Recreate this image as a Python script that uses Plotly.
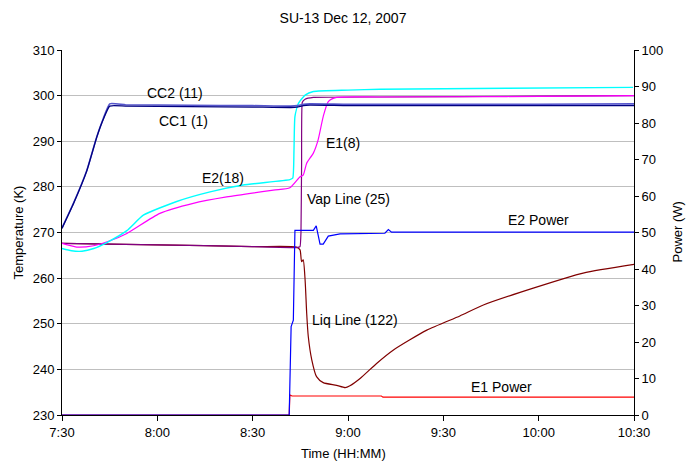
import plotly.graph_objects as go

# time in minutes after 7:30
tick_vals = [0, 30, 60, 90, 120, 150, 180]
tick_text = ["7:30", "8:00", "8:30", "9:00", "9:30", "10:00", "10:30"]

cc1_t = [0, 3.6, 7.8, 10.9, 13.0, 15.0, 20, 40, 60, 72, 74, 76, 78, 90, 120, 150, 180]
cc1_T = [270.9, 276.3, 283.5, 290.8, 294.8, 297.7, 297.7, 297.6, 297.5, 297.4, 297.5, 297.8, 297.9, 297.8, 297.8, 297.8, 297.8]

cc2_t = [0, 3.6, 7.8, 10.9, 13.0, 15.0, 20, 40, 60, 72, 74, 76, 78, 90, 120, 150, 180]
cc2_T = [271.0, 276.4, 283.6, 290.9, 295.0, 298.2, 298.0, 297.9, 297.8, 297.7, 297.8, 298.1, 298.2, 298.1, 298.1, 298.1, 298.2]

e2_t = [0, 3.0, 6.3, 10.0, 14.1, 20.4, 25.6, 36.1, 46.6, 57.0, 71.7, 72.6, 73.0, 73.3, 74.4, 76.5, 79.1, 90, 100.1, 140, 179.7]
e2_T = [266.5, 266.0, 265.9, 266.5, 267.8, 270.4, 273.8, 276.8, 278.9, 280.4, 281.6, 281.9, 288.0, 295.4, 298.3, 300.1, 300.9, 301.2, 301.4, 301.6, 301.8]

e1_t = [0, 4.6, 9.9, 15.1, 20.4, 30.8, 41.3, 51.8, 66.5, 71.7, 74.9, 75.9, 77.0, 79.1, 80.6, 82.2, 83.8, 86.4, 100, 140, 180]
e1_T = [267.6, 266.8, 267.1, 268.2, 269.8, 274.2, 276.4, 277.8, 279.3, 279.8, 282.2, 282.6, 285.2, 287.4, 290.3, 295.4, 298.7, 299.6, 299.7, 299.8, 300.0]

vap_t = [0, 30, 60, 73.8, 74.9, 75.2, 75.4, 75.6, 76.5, 79.1, 100, 150, 180]
vap_T = [267.6, 267.3, 266.9, 266.7, 266.9, 270.0, 285.0, 298.5, 299.2, 299.6, 299.7, 299.9, 300.0]

liq_t = [0, 30, 60, 73.8, 74.9, 75.4, 75.9, 76.5, 77.0, 77.5, 78.6, 80.1, 82.2, 86.4, 89.1, 90.6, 93.8, 99.0,
         104.2, 114.8, 125.2, 132.6, 148.3, 164.0, 180]
liq_T = [267.6, 267.3, 266.9, 266.8, 266.2, 263.6, 264.0, 259.6, 252.3, 247.2, 242.1, 238.4, 237.1, 236.5, 236.0,
         236.4, 238.0, 241.3, 244.2, 248.6, 251.7, 254.1, 257.8, 261.1, 263.0]

e2p_t = [0, 71.5, 72.1, 72.8, 73.3, 79.1, 80.0, 80.6, 81.2, 82.2, 83.8, 87.5, 101.6, 102.7, 103.7, 140, 180]
e2p_P = [0, 0, 24.2, 26.0, 50.6, 50.6, 51.8, 49.5, 46.8, 46.8, 49.0, 49.6, 49.8, 50.8, 50.1, 50.1, 50.1]

e1p_t = [0, 71.5, 71.7, 72.4, 100.5, 101.0, 180]
e1p_P = [0, 0, 5.5, 5.2, 5.2, 4.9, 4.9]

labels = ["CC2 (11)", "CC1 (1)", "E2(18)", "E1(8)", "Vap Line (25)", "E2 Power", "Liq Line (122)", "E1 Power"]
label_t = [35.6, 38.2, 50.6, 88.3, 90.1, 149.9, 92.2, 138.4]
label_T = [300.6, 294.4, 281.9, 289.7, 277.3, 272.7, 250.8, 236.2]

FONT = "Liberation Sans, Arial, sans-serif"

fig = go.Figure()

def add(t, v, color, width=1.2, y2=False, smooth=None):
    line = dict(color=color, width=width)
    if smooth:
        line.update(shape="spline", smoothing=smooth)
    fig.add_trace(go.Scatter(x=t, y=v, mode="lines", line=line,
                             yaxis="y2" if y2 else "y", showlegend=False, hoverinfo="skip"))

add(liq_t, liq_T, "#800000", smooth=0.6)
add(vap_t, vap_T, "#800080", smooth=0.3)
add(e1_t, e1_T, "#FF00FF", smooth=0.6)
add(e2_t, e2_T, "#00FFFF", 1.4, smooth=0.5)
add(cc2_t, cc2_T, "#5555CC", 1.6, smooth=0.4)
add(cc1_t, cc1_T, "#000080", 1.3, smooth=0.4)
add(e1p_t, e1p_P, "#FF0000", y2=True)
add(e2p_t, e2p_P, "#0000FF", y2=True)

for txt, tx, ty in zip(labels, label_t, label_T):
    fig.add_annotation(x=tx, y=ty, xref="x", yref="y", text=txt, showarrow=False,
                       font=dict(family=FONT, size=14, color="#000000"),
                       xanchor="center", yanchor="middle")

fig.add_annotation(x=(343 - 62) / 572, y=(415 - 453) / 365, xref="paper", yref="paper",
                   text="Time (HH:MM)", showarrow=False, xanchor="center", yanchor="middle",
                   font=dict(family=FONT, size=13, color="#000000"))
fig.add_annotation(x=(18 - 62) / 572, y=0.5, xref="paper", yref="paper", textangle=-90,
                   text="Temperature (K)", showarrow=False, xanchor="center", yanchor="middle",
                   font=dict(family=FONT, size=13, color="#000000"))
fig.add_annotation(x=(677 - 62) / 572, y=0.5, xref="paper", yref="paper", textangle=-90,
                   text="Power (W)", showarrow=False, xanchor="center", yanchor="middle",
                   font=dict(family=FONT, size=13, color="#000000"))

fig.update_layout(
    width=686, height=462,
    margin=dict(l=62, r=52, t=50, b=47),
    paper_bgcolor="white", plot_bgcolor="white",
    font=dict(family=FONT, size=13, color="#000000"),
    title=dict(text="SU-13 Dec 12, 2007", x=343 / 686, xref="container", xanchor="center",
               y=1 - 18.5 / 462, yref="container", yanchor="middle",
               font=dict(family=FONT, size=14, color="#000000")),
    xaxis=dict(range=[0, 180], tickvals=tick_vals, ticktext=tick_text, showgrid=False,
               showline=True, linecolor="black", linewidth=1, ticks="outside", ticklen=5,
               tickcolor="black", zeroline=False, tickfont=dict(size=13)),
    yaxis=dict(range=[230, 310], dtick=10, showgrid=True, gridcolor="#BFBFBF", gridwidth=1,
               showline=True, linecolor="black", linewidth=1, ticks="outside", ticklen=4,
               tickcolor="black", zeroline=False, tickfont=dict(size=13)),
    yaxis2=dict(range=[0, 100], dtick=10, overlaying="y", side="right", showgrid=False,
                showline=True, linecolor="black", linewidth=1, ticks="outside", ticklen=4,
                tickcolor="black", zeroline=False, tickfont=dict(size=13)),
)

fig.write_html("out.html")
